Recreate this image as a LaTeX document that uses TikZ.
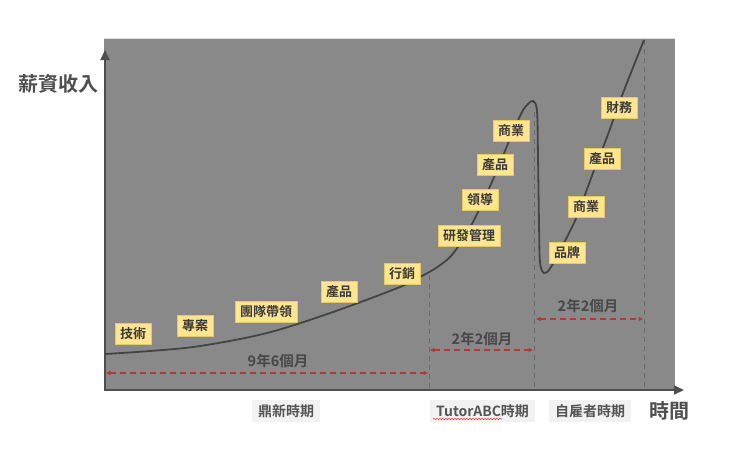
\documentclass[tikz,border=0pt]{standalone}
\usepackage{fontspec}
\setmainfont{Noto Sans CJK TC}[BoldFont={Noto Sans CJK TC Bold}]
\usetikzlibrary{arrows.meta,decorations.pathmorphing}
\definecolor{bggray}{HTML}{898989}
\definecolor{axisgray}{HTML}{4F4F4F}
\definecolor{curvegray}{HTML}{444444}
\definecolor{vdash}{HTML}{6A6A6A}
\definecolor{reddash}{HTML}{B03A3A}
\definecolor{tagfill}{HTML}{FFE58F}
\definecolor{tagdraw}{HTML}{E8C860}
\definecolor{tagtext}{HTML}{3A3A3A}
\definecolor{periodfill}{HTML}{F2F2F2}
\definecolor{periodtext}{HTML}{555555}
\begin{document}
\begin{tikzpicture}[x=1pt,y=-1pt,
  tag/.style={draw=tagdraw,line width=0.8pt,fill=tagfill,text=tagtext,inner xsep=5pt,inner ysep=0pt,minimum height=21pt,font=\fontsize{13}{15}\selectfont\bfseries},
  period/.style={fill=periodfill,text=periodtext,inner xsep=6pt,inner ysep=0pt,minimum height=22pt,font=\fontsize{14}{16}\selectfont\bfseries},
  dur/.style={text=periodtext!85!black,font=\fontsize{14.5}{16}\selectfont\bfseries},
  axislabel/.style={text=axisgray,font=\bfseries},
  axisline/.style={draw=axisgray,line width=1.8pt,-{Triangle[length=10pt,width=9pt]}},
  vline/.style={draw=vdash,line width=1pt,dash pattern=on 5pt off 4pt},
  redarrow/.style={draw=reddash,line width=1.2pt,dash pattern=on 6pt off 4pt,{Triangle[length=4.5pt,width=4pt]}-{Triangle[length=4.5pt,width=4pt]}},
  curve/.style={draw=curvegray,line width=1.8pt}]
\useasboundingbox (0,0) rectangle (730,456);
\fill[bggray] (104,38) rectangle (675,390);
\draw[white!70!bggray,line width=0.8pt] (104,38.4) -- (675,38.4);
% vertical dashed
\coordinate (v1t) at (429,275); \coordinate (v1b) at (429,390);
\coordinate (v2t) at (534,112); \coordinate (v2b) at (534,390);
\coordinate (v3t) at (644,40); \coordinate (v3b) at (644,390);
\draw[vline] (v1t) -- (v1b);
\draw[vline] (v2t) -- (v2b);
\draw[vline] (v3t) -- (v3b);
% axes
\coordinate (o) at (105,390);
\coordinate (ytop) at (105,50);
\coordinate (xend) at (684,390);
\draw[axisline] (104,390) -- (xend);
\draw[axisline] (o) -- (ytop);
% curve
\draw[curve] plot[smooth,tension=0.55] coordinates {(105,354) (150,351) (200,346) (267,333) (333,312) (400,287) (420,277) (436,268) (450,257) (462,241) (474,220) (487,193) (500,163) (512,134) (522,112) (528,104) (533,101) (537,111) (538,157) (539,223) (540,262) (544,273) (551,267) (567,237) (577,216) (593,173) (607,137) (623,93) (644,40)};
% red duration arrows
\coordinate (a1l) at (106,373); \coordinate (a1r) at (428,373);
\coordinate (a2l) at (430,350); \coordinate (a2r) at (533,350);
\coordinate (a3l) at (536,319); \coordinate (a3r) at (643,319);
\draw[redarrow] (a1l) -- (a1r);
\draw[redarrow] (a2l) -- (a2r);
\draw[redarrow] (a3l) -- (a3r);
\node[dur] (d1) at (278,361) {9年6個月};
\node[dur] (d2) at (482,339) {2年2個月};
\node[dur] (d3) at (588,306) {2年2個月};
% tags
\node[tag] (t1) at (133,334) {技術};
\node[tag] (t2) at (195,326) {專案};
\node[tag] (t3) at (266,312) {團隊帶領};
\node[tag] (t4) at (339,292) {產品};
\node[tag] (t5) at (402,274) {行銷};
\node[tag] (t6) at (469,236) {研發管理};
\node[tag] (t7) at (480,200) {領導};
\node[tag] (t8) at (495,165) {產品};
\node[tag] (t9) at (511,131) {商業};
\node[tag] (t10) at (567,253) {品牌};
\node[tag] (t11) at (586,207) {商業};
\node[tag] (t12) at (602,159) {產品};
\node[tag] (t13) at (619,108) {財務};
% axis labels
\node[axislabel,font=\fontsize{20}{22}\selectfont\bfseries] (ylab) at (58,84) {薪資收入};
\node[axislabel,font=\fontsize{20}{22}\selectfont\bfseries] (xlab) at (669,411) {時間};
% periods
\node[period] (p1) at (286,411) {鼎新時期};
\node[period] (p2) at (482.5,411) {TutorABC時期};
\node[period] (p3) at (590,411) {自雇者時期};
\draw[red!80!white,line width=0.6pt,decorate,decoration={snake,amplitude=0.6pt,segment length=3pt}] (433,419) -- (502,419);
\end{tikzpicture}
\end{document}
